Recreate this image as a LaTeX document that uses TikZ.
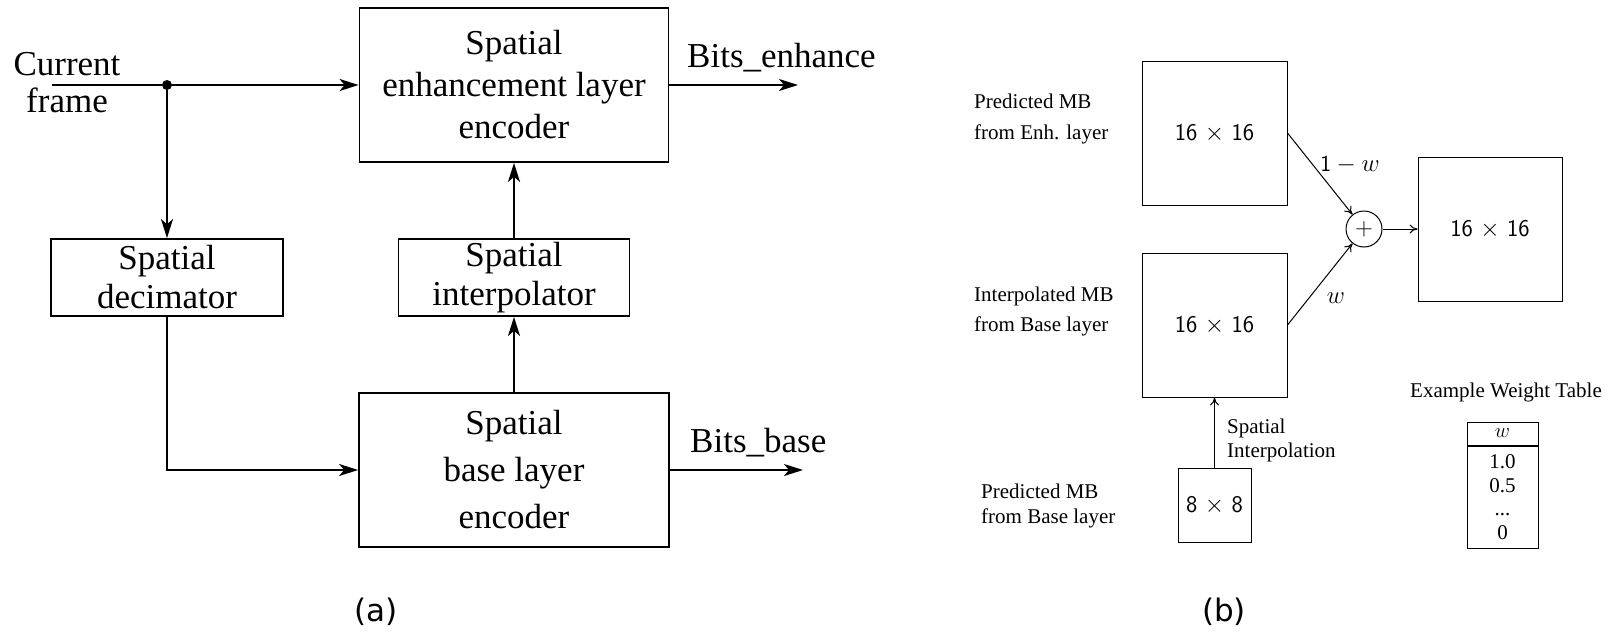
\documentclass[tikz,border=0pt]{standalone}
\usepackage{fontspec}
\setmainfont{Liberation Serif}
\newfontfamily\capfont{DejaVu Sans}
\usetikzlibrary{arrows.meta}
\tikzset{
  bigbox/.style={draw, line width=1.8pt, inner sep=0pt, align=center, font=\fontsize{35}{42}\selectfont},
  bigarr/.style={line width=1.8pt, -{Stealth[length=19pt,width=12pt,inset=5pt]}},
  sqbox/.style={draw, line width=1pt, inner sep=0pt, font=\fontsize{24}{28}\sffamily},
  thinarr/.style={line width=1pt, -{To[length=8pt,width=9pt]}},
  lbl/.style={font=\fontsize{21}{31}\selectfont, align=left, inner sep=0pt, anchor=north west},
  bigtxt/.style={font=\fontsize{35}{37}\selectfont, inner sep=0pt},
  smalltxt/.style={font=\fontsize{21}{21}\selectfont, inner sep=0pt},
  captxt/.style={font=\capfont\fontsize{31}{36}\selectfont, inner sep=0pt}
}
\begin{document}
\begin{tikzpicture}[x=1pt,y=-1pt]
\useasboundingbox (0,0) rectangle (1616,635);
% ---------- (a) ----------
\node[bigbox, minimum width=309pt, minimum height=154pt] (enh) at (514,85) {Spatial\\enhancement layer\\encoder};
\node[bigbox, minimum width=232pt, minimum height=77pt, font=\fontsize{35}{39}\selectfont] (dec) at (167,277.5) {Spatial\\decimator};
\node[bigbox, minimum width=231pt, minimum height=77pt, font=\fontsize{35}{39}\selectfont] (interp) at (514,277.5) {Spatial\\interpolator};
\node[bigbox, minimum width=310pt, minimum height=154pt, font=\fontsize{35}{47}\selectfont] (base) at (514,470) {Spatial\\base layer\\encoder};
\node[bigtxt, align=center] (cf) at (67,82.5) {Current\\frame};
\coordinate (in) at (52,85);
\node[circle, fill, inner sep=0pt, minimum size=10pt] (dot) at (167,85) {};
\draw[line width=1.8pt] (in) -- (dot);
\draw[bigarr] (dot) -- (enh.west);
\draw[bigarr] (dot) -- (dec.north);
\draw[bigarr] (dec.south) |- (base.west);
\draw[bigarr] (base.north) -- (interp.south);
\draw[bigarr] (interp.north) -- (enh.south);
\coordinate (eo) at (798,85);
\draw[bigarr] (enh.east) -- (eo);
\node[bigtxt, anchor=base west] (be) at (687,67) {Bits\_enhance};
\coordinate (bo) at (803,470);
\draw[bigarr] (base.east) -- (bo);
\node[bigtxt, anchor=base west] (bb) at (690,452) {Bits\_base};
\node[captxt] (ca) at (376,612) {(a)};
% ---------- (b) ----------
\node[sqbox, minimum width=145pt, minimum height=144pt] (pe) at (1214.5,133) {16 $\times$ 16};
\node[sqbox, minimum width=145pt, minimum height=144pt] (ib) at (1214.5,325) {16 $\times$ 16};
\node[sqbox, minimum width=73pt, minimum height=74pt] (pb) at (1214.5,505) {8 $\times$ 8};
\node[draw, circle, line width=1pt, minimum size=36pt, inner sep=0pt, font=\fontsize{24}{24}\selectfont] (sum) at (1364,229) {$+$};
\node[sqbox, minimum width=144pt, minimum height=144pt] (out) at (1490,229) {16 $\times$ 16};
\draw[thinarr] (pe.east) -- (sum);
\draw[thinarr] (ib.east) -- (sum);
\draw[thinarr] (sum) -- (out);
\draw[thinarr] (pb) -- (ib);
\node[smalltxt, font=\fontsize{23}{23}\selectfont] (lw1) at (1350,165) {$\mathsf{1}-w$};
\node[smalltxt, font=\fontsize{23}{23}\selectfont] (lw) at (1336,298) {$w$};
\node[lbl] (l1) at (974,93.5) {Predicted MB\\from Enh. layer};
\node[lbl, font=\fontsize{21}{30}\selectfont] (l2) at (974,286.5) {Interpolated MB\\from Base layer};
\node[lbl, font=\fontsize{21}{25}\selectfont] (l3) at (981,483.5) {Predicted MB\\from Base layer};
\node[lbl, font=\fontsize{21}{24}\selectfont] (si) at (1227,418.5) {Spatial\\Interpolation};
\node[smalltxt, anchor=base] (ewt) at (1506,397) {Example Weight Table};
\node[draw, line width=1pt, minimum width=71pt, minimum height=23pt, inner sep=0pt, smalltxt] (th) at (1502.5,433.5) {$w$};
\node[draw, line width=1pt, minimum width=71pt, minimum height=102pt, inner sep=0pt, align=center, font=\fontsize{21}{23.5}\selectfont, anchor=north] (tb) at (th.south) {1.0\\0.5\\...\\0};
\node[captxt] (cb) at (1224,612) {(b)};
\end{tikzpicture}
\end{document}
